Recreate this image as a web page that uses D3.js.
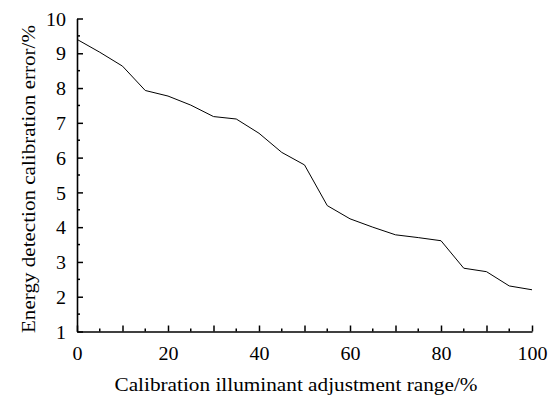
<!DOCTYPE html>
<html>
<head>
<meta charset="utf-8">
<script src="https://cdn.jsdelivr.net/npm/d3@7"></script>
<style>
  html, body { margin: 0; padding: 0; background: #fff; }
  svg { display: block; }
</style>
</head>
<body>
<script>
const xValues = [0, 5, 10, 15, 20, 25, 30, 35, 40, 45, 50, 55, 60, 65, 70, 75, 80, 85, 90, 95, 100];
const errorValues = [9.40, 9.03, 8.63, 7.93, 7.77, 7.51, 7.18, 7.11, 6.70, 6.15, 5.79, 4.62, 4.24, 4.00, 3.78, 3.70, 3.61, 2.82, 2.72, 2.31, 2.20];
const xTickLabels = [0, 20, 40, 60, 80, 100];
const yTickLabels = [1, 2, 3, 4, 5, 6, 7, 8, 9, 10];
const xTitle = "Calibration illuminant adjustment range/%";
const yTitle = "Energy detection calibration error/%";

const FONT = "'Liberation Serif', 'Times New Roman', 'DejaVu Serif', serif";
const W = 556, H = 400;
const m = { left: 77, right: 24, top: 18.5, bottom: 68.5 };

const svg = d3.select("body").append("svg").attr("width", W).attr("height", H);

const x = d3.scaleLinear().domain([0, 100]).range([m.left, W - m.right]);
const y = d3.scaleLinear().domain([1, 10]).range([H - m.bottom, m.top]);

const xMinor = d3.range(5, 100, 10);
const yMinor = d3.range(1.5, 10, 1);

function fitDigits(sel) {
  sel.each(function () {
    const t = d3.select(this);
    const s = t.text();
    if (s.length) t.attr("textLength", s.length * 10).attr("lengthAdjust", "spacingAndGlyphs");
  });
}

const gx = svg.append("g").attr("transform", `translate(0,${y(1)})`);
gx.call(d3.axisBottom(x).tickValues(d3.range(0, 101, 10)).tickSizeInner(-6).tickSizeOuter(0)
  .tickFormat(d => xTickLabels.includes(d) ? d : ""));
gx.attr("font-family", null).attr("font-size", null);
gx.selectAll(".tick text").attr("y", 28).attr("dy", 0)
  .style("font-family", FONT).style("font-size", "18.5px").call(fitDigits);
gx.selectAll(".tick line").attr("stroke-width", 1.5);
gx.select(".domain").attr("stroke-width", 1.6);
gx.selectAll(".minor").data(xMinor).enter().append("line")
  .attr("x1", d => x(d)).attr("x2", d => x(d)).attr("y1", 0).attr("y2", -3)
  .attr("stroke", "#000").attr("stroke-width", 1.5);

const gy = svg.append("g").attr("transform", `translate(${x(0)},0)`);
gy.call(d3.axisLeft(y).tickValues(yTickLabels).tickSizeInner(-6).tickSizeOuter(0));
gy.attr("font-family", null).attr("font-size", null);
gy.selectAll(".tick text").attr("x", -11).attr("dy", "0.36em")
  .style("font-family", FONT).style("font-size", "18.5px").call(fitDigits);
gy.selectAll(".tick line").attr("stroke-width", 1.5);
gy.select(".domain").attr("stroke-width", 1.6);
gy.selectAll(".minor").data(yMinor).enter().append("line")
  .attr("y1", d => y(d)).attr("y2", d => y(d)).attr("x1", 0).attr("x2", 3)
  .attr("stroke", "#000").attr("stroke-width", 1.5);

svg.selectAll(".domain").attr("stroke", "#000");
svg.selectAll(".tick line").attr("stroke", "#000");
svg.selectAll(".tick text").attr("fill", "#000");

const data = xValues.map((v, i) => [v, errorValues[i]]);
svg.append("path").datum(data)
  .attr("fill", "none").attr("stroke", "#000").attr("stroke-width", 1)
  .attr("d", d3.line().x(d => x(d[0])).y(d => y(d[1])));

svg.append("text").attr("x", 296).attr("y", 391)
  .attr("text-anchor", "middle").attr("fill", "#000")
  .attr("textLength", 363).attr("lengthAdjust", "spacingAndGlyphs")
  .style("font-family", FONT).style("font-size", "18.5px").text(xTitle);

svg.append("text").attr("transform", `translate(35,179) rotate(-90)`)
  .attr("text-anchor", "middle").attr("fill", "#000")
  .attr("textLength", 308).attr("lengthAdjust", "spacingAndGlyphs")
  .style("font-family", FONT).style("font-size", "18.5px").text(yTitle);
</script>
</body>
</html>
